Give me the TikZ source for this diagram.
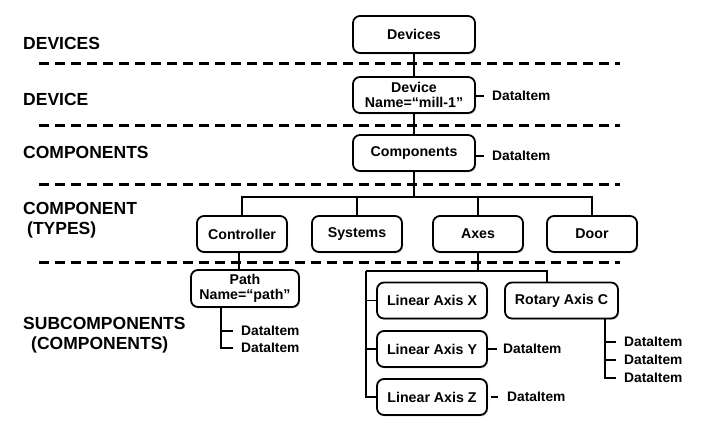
\documentclass[tikz,border=0pt]{standalone}
\usepackage{fontspec}
\setmainfont{Liberation Sans}
\usetikzlibrary{shadows}
\newcommand\bxfont{\fontsize{14.2}{14.5}\selectfont\bfseries}
\newcommand\lblfont{\fontsize{17.5}{20}\selectfont\bfseries}
\newcommand\difont{\fontsize{13.8}{15}\selectfont\bfseries}
\begin{document}
\begin{tikzpicture}[x=1pt,y=-1pt,
  box/.style={draw,line width=1.8pt,rounded corners=7pt,fill=white,inner sep=0pt,
    minimum height=36pt,align=center,font=\bxfont,
    drop shadow={shadow xshift=1.2pt,shadow yshift=-1.4pt,fill=black!50,opacity=0.35}},
  conn/.style={line width=1.7pt},
  sep/.style={line width=3pt,dash pattern=on 9.5pt off 6.5pt},
  lbl/.style={anchor=base west,inner sep=0pt,font=\lblfont},
  di/.style={anchor=west,inner sep=0pt,font=\difont},
  tick/.style={conn,shorten >=8.5pt}]
\useasboundingbox (0,0) rectangle (703,434);

% separators
\draw[sep] (39,63) -- (620,63);
\draw[sep] (39,125) -- (620,125);
\draw[sep] (39,184) -- (620,184);
\draw[sep] (39,262) -- (620,262);

% level labels
\node[lbl] (lDevs) at (23,49) {DEVICES};
\node[lbl] (lDev) at (23,105) {DEVICE};
\node[lbl] (lComps) at (23,158) {COMPONENTS};
\node[lbl] (lCompA) at (23,214) {COMPONENT};
\node[lbl] (lCompB) at (27,234) {(TYPES)};
\node[lbl] (lSubA) at (23,329) {SUBCOMPONENTS};
\node[lbl] (lSubB) at (31,349) {(COMPONENTS)};

% boxes
\node[box,minimum width=122pt,minimum height=37pt] (devs) at (414,34.5) {Devices};
\node[box,minimum width=122pt] (dev) at (414,95) {Device\\Name=“mill-1”};
\node[box,minimum width=122pt] (comps) at (414,153) {Components};
\node[box,minimum width=90pt] (ctrl) at (242,234) {Controller};
\node[box,minimum width=90pt] (sys) at (357,234) {Systems};
\node[box,minimum width=90pt] (axes) at (478,234) {Axes};
\node[box,minimum width=90pt] (door) at (592,234) {Door};
\node[box,minimum width=108pt,minimum height=37pt] (path) at (245,288.5) {Path\\Name=“path”};
\node[box,minimum width=110pt] (lx) at (432,300.5) {Linear Axis X};
\node[box,minimum width=110pt] (ly) at (432,349) {Linear Axis Y};
\node[box,minimum width=110pt] (lz) at (432,397) {Linear Axis Z};
\node[box,minimum width=113pt] (rot) at (561.5,300.5) {Rotary Axis C};

% data items
\node[di] (ddi) at (492,96) {DataItem};
\node[di] (cdi) at (492,156) {DataItem};
\node[di] (pdi1) at (241,331) {DataItem};
\node[di] (pdi2) at (241,348) {DataItem};
\node[di] (ydi) at (503,349) {DataItem};
\node[di] (zdi) at (507,397) {DataItem};
\node[di] (rdi1) at (624,342) {DataItem};
\node[di] (rdi2) at (624,360) {DataItem};
\node[di] (rdi3) at (624,378) {DataItem};

% helper coordinates
\coordinate (bus) at (414,197);
\coordinate (pv) at (221,306.5);
\coordinate (albus) at (366,271);
\coordinate (arbus) at (547,271);
\coordinate (rv) at (605,318);

% tree connectors
\draw[conn] (devs) -- (dev);
\draw[conn] (dev) -- (comps);
\draw[conn] (comps.south) -- (bus);
\draw[conn] (ctrl.north) -- (ctrl.north |- bus) -- (door.north |- bus) -- (door.north);
\draw[conn] (sys.north) -- (sys.north |- bus);
\draw[conn] (axes.north) -- (axes.north |- bus);
\draw[conn] ([xshift=-3pt]ctrl.south) -- ([xshift=-3pt]ctrl.south |- path.north);
\draw[conn] (axes.south) -- (axes.south |- albus);
\draw[conn] (albus) -- (arbus) -- (arbus |- rot.north);
\draw[conn] (albus) |- (lz.west);
\draw[conn] (albus |- lx.west) -- (lx.west);
\draw[conn] (albus |- ly.west) -- (ly.west);

% data item connectors
\draw[tick] (dev.east |- ddi.west) -- (ddi.west);
\draw[tick] (comps.east |- cdi.west) -- (cdi.west);
\draw[tick] (pv) |- (pdi2.west);
\draw[tick] (pv |- pdi1.west) -- (pdi1.west);
\draw[conn,shorten >=6pt] (ly.east) -- (ydi.west);
\draw[conn,shorten >=9pt] ([xshift=3pt]lz.east) -- (zdi.west);
\draw[tick] (rv) |- (rdi3.west);
\draw[tick] (rv |- rdi1.west) -- (rdi1.west);
\draw[tick] (rv |- rdi2.west) -- (rdi2.west);
\end{tikzpicture}
\end{document}
